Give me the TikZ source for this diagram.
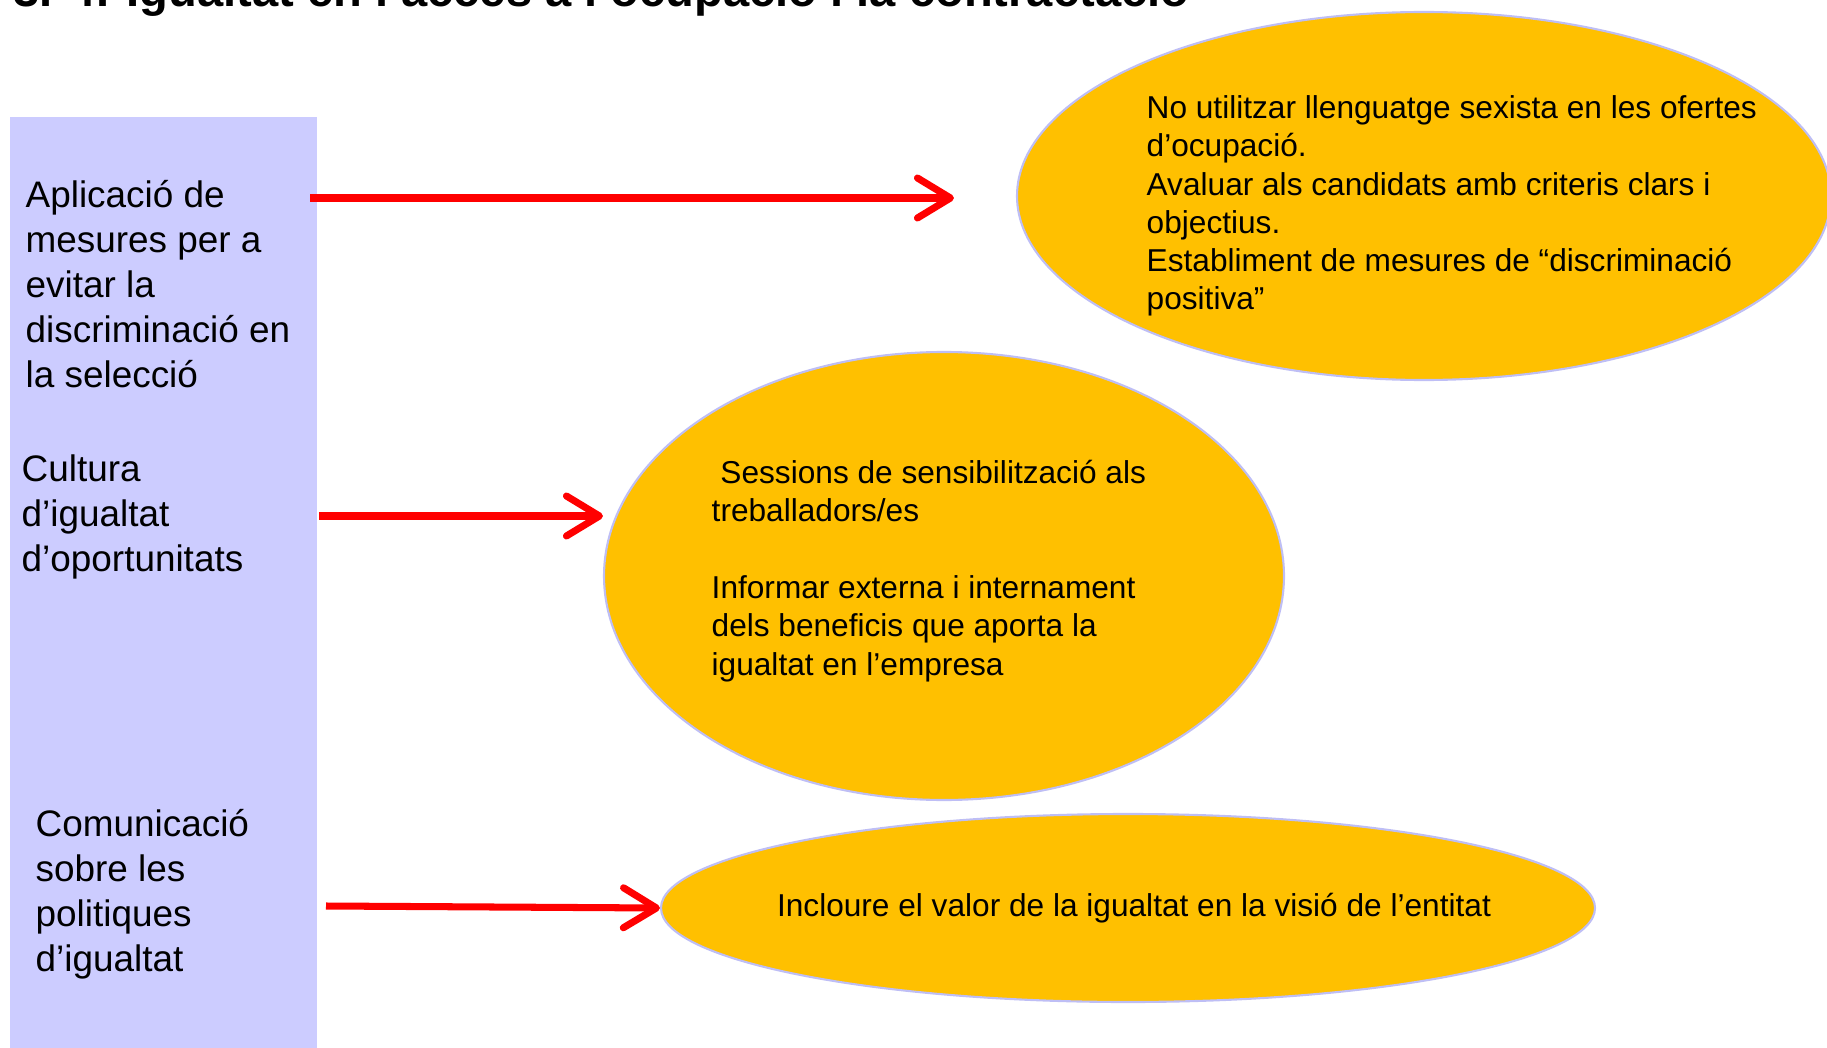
\documentclass[tikz,border=0pt]{standalone}
\usepackage{fontspec}
\setmainfont{Liberation Sans}
\usetikzlibrary{shapes.geometric, arrows.meta}

\definecolor{panelblue}{RGB}{204,204,255}
\definecolor{ideafill}{RGB}{255,192,0}
\definecolor{idealine}{RGB}{190,190,245}

\begin{document}
\begin{tikzpicture}[
    topic/.style={align=left, inner sep=0pt, anchor=west, font=\fontsize{10.5}{12.8}\selectfont},
    idea/.style={ellipse, draw=idealine, line width=0.6pt, fill=ideafill, inner sep=0pt},
    ideatext/.style={align=left, inner sep=0pt, font=\fontsize{9}{10.9}\selectfont},
    pointer/.style={draw=red, line width=2pt, -{Straight Barb[length=3.3mm,width=4mm,round]}}
  ]
    \useasboundingbox (0,0) rectangle (18.27,-10.48);

    % Draw the title (cut by the page edge)
    \node[anchor=base east, inner sep=0pt, font=\bfseries\fontsize{13.4}{16}\selectfont] (title) at (11.90,-0.07)
      {3. 4. Igualtat en l’accés a l’ocupació i la contractació};

    % Draw the panel on the left
    \node[fill=panelblue, anchor=north west, inner sep=0pt, minimum width=3.07cm, minimum height=9.315cm] (panel) at (0.09,-1.165) {};

    \node[topic] (selecciotopic) at (0.25,-2.84)
      {Aplicació de\\mesures per a\\evitar la\\discriminació en\\la selecció};
    \node[topic] (culturatopic) at (0.21,-5.17)
      {Cultura\\d’igualtat\\d’oportunitats};
    \node[topic] (comunictopic) at (0.35,-8.94)
      {Comunicació\\sobre les\\politiques\\d’igualtat};

    % Draw the ellipses
    \node[idea, minimum width=8.14cm, minimum height=3.68cm] (seleccio) at (14.24,-1.96) {};
    \node[idea, minimum width=6.80cm, minimum height=4.48cm] (cultura) at (9.44,-5.76) {};
    \node[idea, minimum width=9.34cm, minimum height=1.88cm] (comunic) at (11.28,-9.08) {};

    \node[ideatext, anchor=west] (selecciotxt) at (11.46,-2.06)
      {No utilitzar llenguatge sexista en les ofertes\\d’ocupació.\\Avaluar als candidats amb criteris clars i\\objectius.\\Establiment de mesures de “discriminació\\positiva”};
    \node[ideatext, anchor=west] (culturatxt) at (7.11,-5.71)
      {\hspace*{2.5pt}Sessions de sensibilització als\\treballadors/es\\[10.9pt]Informar externa i internament\\dels beneficis que aporta la\\igualtat en l’empresa};
    \node[ideatext] (comunictxt) at (11.34,-9.08)
      {Incloure el valor de la igualtat en la visió de l’entitat};

    % Draw the arrows
    \coordinate (s1) at (3.10,-1.98);
    \coordinate (s2) at (3.19,-5.16);
    \coordinate (s3) at (3.26,-9.06);
    \draw[pointer, shorten >=0.62cm] (s1) -- (s1 -| seleccio.west);
    \draw[pointer] (s2) -- (s2 -| cultura.west);
    \draw[pointer] (s3) -- (comunic.west);
\end{tikzpicture}
\end{document}
